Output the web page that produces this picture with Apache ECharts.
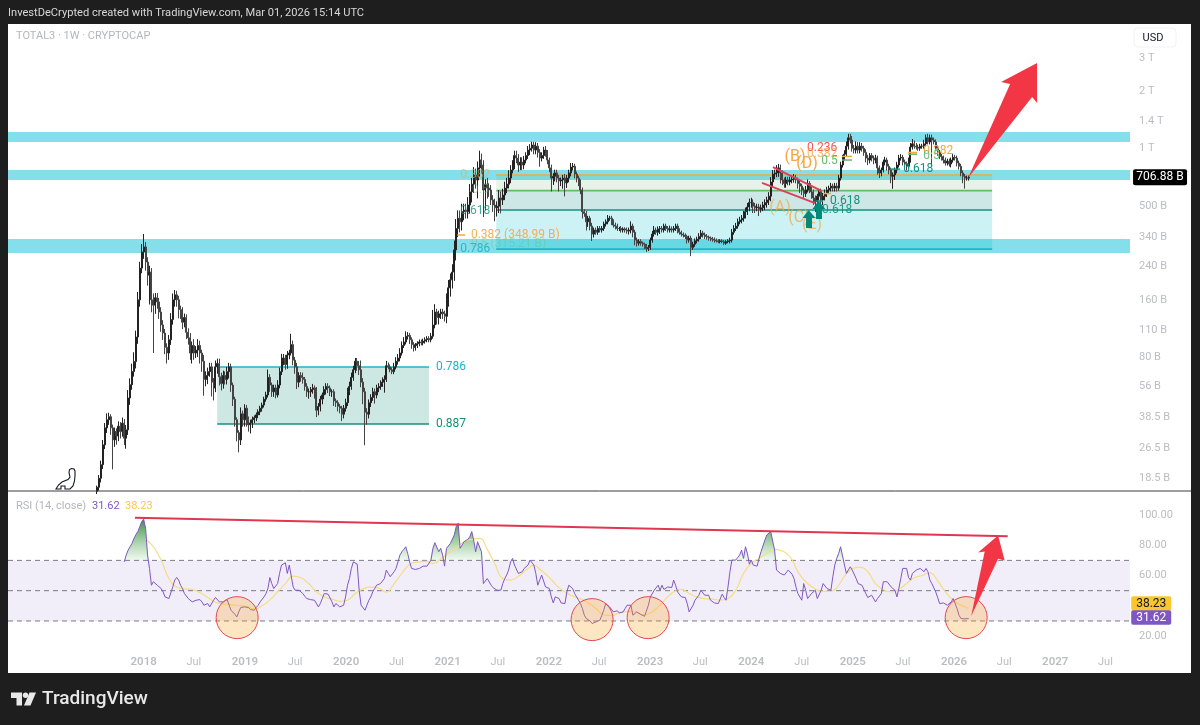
<!DOCTYPE html>
<html>
<head>
<meta charset="utf-8">
<title>TOTAL3</title>
<style>html,body{margin:0;padding:0;background:#1e1e1e;}#chart{width:1200px;height:725px;}</style>
<script src="https://cdn.jsdelivr.net/npm/echarts@6/dist/echarts.min.js"></script>
</head>
<body>
<div id="chart"></div>
<script>
// weekly closes of TOTAL3 in billions. last candle is the week of 2026-02-23
var closes = [
  16.5,18.4,21.7,27.6,33.9,37.4,38.8,33.9,29.3,32.4,30.7,34.6,32.4,35.9,29.9,33.1,48.7,57.2,67.1,75.7,
  102,160,235,286,304,253,216,224,160,150,164,156,138,118,107,90,84,98.6,126,160,
  170,160,142,138,122,129,108,101,84,92,84,87,92,84,76,61,64,67,71,59,
  55,71,74,63,58,64,61,67,71,57,48,37.4,32,29.3,40.2,37.4,43,37.4,35.2,36,
  37.4,38.3,39.7,41.2,43,44.7,48,50.5,62.5,57,52.5,55,50.5,57,67,77,79,73,82,84,
  93,77,71,59,64,62.5,61,56,52.5,52.5,54,55,52.5,42,44,48,50.5,54,56,55,
  52.5,52.5,47,46,44,43,40,43,46,52.5,56,62.5,68.5,76,72,68.5,59,52.5,41,40,
  46,49,52.5,50.5,55,56,58,59,61,72,71,68.5,67,71,76,79,84,92,96,103,
  104,98.6,93,90,92,94,96,95,97,98.6,100,98.6,103,118,138,129,135,138,135,131,
  160,185,204,224,293,380,430,412,466,475,466,505,592,650,727,684,792,871,820,606,
  650,620,606,537,505,488,498,550,537,570,620,650,700,772,820,920,892,820,850,820,
  871,920,983,1005,1045,983,1030,955,892,920,983,945,871,792,700,715,745,700,676,684,
  700,660,700,745,800,808,735,700,668,606,466,456,412,430,391,355,373,363,380,373,
  380,401,412,430,430,412,396,391,380,380,373,378,373,368,373,391,363,330,318,324,
  318,314,306,298,302,330,355,373,363,378,380,373,391,380,373,378,373,380,391,373,
  363,355,351,345,330,338,302,314,327,334,345,359,351,345,342,338,336,334,330,327,324,327,
  324,318,324,327,330,363,380,391,412,421,430,447,466,493,520,520,498,488,493,480,
  488,505,520,537,562,668,735,745,772,792,745,684,655,684,668,684,690,700,684,655,
  635,606,580,606,655,620,592,550,527,562,592,537,562,580,606,620,635,620,635,620,
  700,820,892,935,1030,1140,1110,1005,983,1030,983,1030,1005,955,892,871,920,892,871,892,
  792,745,772,850,871,808,772,715,727,772,820,892,900,850,830,808,871,1020,1060,1030,
  1020,1005,1030,1030,1060,1140,1085,1140,1110,1085,1005,955,910,892,871,840,860,830,871,900,892,840,808,745,715,700,700,706.88
];
// wick length past the candle body, in percent of price
var wickUp = [
  2,4,5,6,6,8,5,3,4,5,4,6,5,7,5,6,10,8,10,12,
  8,10,8,10,17,6,6,8,5,8,6,6,5,6,6,5,5,6,8,8,
  6,5,5,5,6,5,4,5,6,5,8,5,8,6,4,8,5,5,5,5,
  5,8,6,6,5,6,5,6,5,4,3,3,3,3,8,4,5,4,4,4,
  4,3,3,3,3,3,3,4,10,4,3,4,4,6,5,8,5,4,5,4,
  14,5,4,5,4,4,6,3,4,4,3,5,3,6,4,4,3,4,4,4,
  3,3,3,3,3,3,3,4,5,5,6,6,5,4,4,6,12,5,5,5,
  4,4,5,4,4,4,4,6,5,6,4,3,3,5,5,5,6,5,6,6,
  4,3,3,3,3,3,3,3,3,3,3,3,4,20,10,4,4,4,4,4,
  8,10,8,10,12,12,10,10,10,8,8,10,10,8,10,8,8,12,8,6,
  6,8,6,6,6,8,6,10,8,8,8,8,10,6,6,6,6,5,6,6,
  5,4,5,5,4,4,5,4,4,4,4,5,4,3,4,4,4,4,4,3,
  4,5,4,4,5,4,3,3,3,3,3,3,3,3,3,4,3,3,3,3,
  3,3,3,4,3,3,3,3,3,2,3,2,2,3,3,6,3,3,3,3,
  3,2,2,3,3,3,4,5,3,3,3,3,3,3,3,4,3,3,3,3,
  2,2,2,2,2,3,3,3,3,3,4,4,3,3,3,2,2,2,2,2,2,2,
  2,2,2,2,3,4,4,4,4,4,4,5,5,5,5,6,4,4,4,4,
  4,4,4,4,5,6,5,4,6,5,4,3,3,4,4,4,5,5,4,3,
  4,3,3,5,5,3,3,3,3,3,4,4,4,5,4,3,4,3,4,4,
  4,4,4,5,6,5,5,5,4,6,5,5,4,3,4,4,3,3,3,4,
  3,3,3,3,4,3,3,3,3,3,4,4,4,3,3,3,3,5,6,4,
  4,3,3,3,5,4,5,4,4,3,3,3,3,3,3,3,3,3,3,4,3,3,3,3,3,3,3,2
];
var wickDown = [
  3,4,5,5,5,6,6,8,30,8,10,6,8,6,8,12,6,8,6,6,
  8,8,8,6,8,10,12,30,14,44,10,8,8,8,8,8,12,8,6,6,
  8,8,10,8,8,6,8,8,8,12,8,6,8,12,12,18,8,10,6,16,
  14,5,8,10,8,6,6,6,8,8,8,8,10,14,6,8,8,8,8,10,
  6,4,4,4,4,4,3,3,3,8,6,6,4,3,4,4,6,6,5,5,
  3,6,8,8,6,5,5,5,6,8,6,5,8,8,6,6,6,5,6,6,
  5,6,6,5,6,6,8,5,4,4,4,4,4,4,6,6,6,14,33,12,
  5,5,4,10,4,5,4,4,12,3,3,3,3,3,3,4,4,3,3,3,
  4,5,5,5,4,3,3,3,3,3,3,3,3,3,4,8,8,6,6,6,
  8,8,10,10,10,12,10,12,10,10,8,8,10,12,10,10,20,10,10,28,
  22,12,8,6,8,15,10,8,15,6,6,6,5,6,4,5,6,8,6,6,
  5,4,4,6,4,5,5,6,10,4,4,4,5,5,15,8,6,5,12,6,
  10,15,6,5,4,4,5,5,5,5,8,4,10,6,5,8,4,3,3,3,
  3,3,3,3,3,4,3,4,3,3,3,3,3,3,4,4,6,6,4,3,
  3,3,3,4,3,3,3,3,3,4,6,3,3,3,3,3,3,3,3,4,
  3,3,3,3,4,3,10,3,3,3,3,3,3,3,3,3,3,3,3,2,2,2,
  2,2,2,2,3,3,3,3,3,3,4,4,4,4,5,6,8,6,4,8,
  4,4,6,6,6,6,6,6,5,8,12,6,5,5,4,4,4,4,4,6,
  8,6,5,4,3,6,8,8,12,6,5,8,6,5,4,4,4,4,4,4,
  3,3,3,3,3,4,4,4,4,4,4,4,4,4,5,6,4,4,5,4,
  8,6,4,3,4,5,5,8,14,6,4,3,3,4,4,5,3,3,3,3,
  3,3,3,3,3,3,3,3,28,3,3,4,3,3,4,3,3,3,4,3,3,4,4,4,8,12,3,3
];
// RSI(14), weekly, ends on the last candle
var rsi = [
  69,73.5,76.8,79,81.2,84.5,87,89,92.3,95.6,97.2,91.2,73.5,64.7,53.6,55.9,57,53.6,52.5,51.4,
  49.2,45.9,44.8,44.8,45.9,52.5,57,58.7,57,53.6,51.4,48.1,47,44.8,43.7,42.6,43.7,43.7,44.8,44.1,
  42.6,40.4,39.3,41.5,39.3,40.4,43.7,45.5,44.8,42.6,41.9,42.6,43.3,44.1,44.8,37.1,36,34.4,32.7,
  36,38.9,39.3,39.3,39.3,38.9,37.5,38.2,37.1,38.9,40.4,42.6,43.7,45.9,48.1,51.4,58.7,54.7,51.4,50.3,
  54.7,61.4,66.9,66.9,68.4,61.4,66.9,67.5,52.5,50.3,51.4,50.3,49.2,48.1,46.3,44.8,45.5,44.1,44.8,43.7,
  42.6,39.3,41.5,44.8,48.1,48.6,47.7,47,42.6,39.3,41.5,40.4,39.3,39.3,40.4,45.9,53.6,58,64.7,69,
  68.4,67.5,50.3,40.4,39.3,37.1,40.4,43.7,45.9,49.2,51.4,53.6,52.5,54.7,53.6,58,63.6,61.4,59.2,60.3,
  62.5,64.7,69,73.5,75.7,77.3,79,74.6,69,64.7,63.6,64,63.6,64.7,65.3,66.2,67.5,66.2,67.5,70.2,
  78,81.7,82.3,75.7,78,73.5,66.2,78,79,81.2,82.3,86.8,92.3,94.5,78,80.1,82.3,83.4,83.9,85.6,
  89,83.4,75.7,82.3,83.4,75.7,54.7,53.6,58,57,53.6,52,51.4,50.3,49.2,50.3,54.7,58,60.3,63.6,
  69,71.3,66.9,66.9,61.4,61.4,62.5,64.7,63.6,66.9,70.2,71.3,66.9,61.4,53.6,53.6,60.3,60.3,52.5,53.6,
  51.4,45.9,41.9,45.9,47,44.8,41.9,41.5,41.5,49.2,53.6,54.7,51.4,48.1,45.9,43.7,41.5,38.2,33.8,31.6,
  30.5,30,28.3,29.4,29.4,30,30.5,33.8,37.1,41.5,41.5,39.3,38.2,36,35.3,36.7,35.3,36,36,38.2,
  40.4,41.5,40.4,33.8,34.4,36,34.9,34.4,33.8,33.1,32.2,40.4,45.9,46.4,50.3,51.4,53.6,50.3,53.6,50.8,
  50.8,52.5,52,52,57,53.6,49.2,48.1,45.9,44.8,45.5,41.5,36,35.3,40.4,43.7,42.6,47,50.3,
  50.3,47,45.9,47,43.7,42.6,41.9,41.5,41.5,42.6,47.7,45.5,43.7,52.5,62.5,70.2,70.2,70.2,69.8,73.5,
  76.8,71.3,79,74.6,67.5,70.2,66.9,66.2,66.2,71.3,75.7,76.8,83.4,86.8,87.9,89,89,76.8,63.6,63.6,
  61.4,62.5,60.3,61.4,63.6,63.6,60.9,58,52.5,48.1,49.2,43.7,54.7,50.3,44.8,43.7,48.1,49.2,50.3,44.8,
  45.9,50.3,54.7,54.7,51.4,52.5,50.3,59.2,66.9,71.3,74.6,79,80.1,66.9,61.4,63.6,65.8,63.6,64,58,
  54.7,53.6,53.6,53.6,48.1,45.5,46.4,47,45.9,42.6,44.8,45.9,48.1,55.9,55.9,55.9,55.9,52.5,51.4,50.3,
  45.9,51.4,58,64.7,65.3,64.7,58.7,57,61.4,62.5,63.6,62.5,64.7,64.7,62.5,64.7,62.5,57,54.7,53.6,
  49.2,45.5,41.5,41,41.9,41,40.4,40.4,42.6,44.8,44.1,38.2,33.8,31.6,31.4,31.4,31.6,31.62
];
// RSI moving average, one reading every 4th week, ends on the last candle
var rsiMa = [
  84.1,79,70.2,58,52.5,51.2,50.8,48.6,45.5,42.4,41.3,40.8,40.2,39.5,38,40,43.9,49.2,54.7,59.6,
  58.5,54.7,49.2,45.9,44.4,43,43.7,48.1,51.2,52.3,51.7,49,54.7,61.4,67.3,68.9,69.3,68,70.9,75,
  78.4,82.3,83.9,84.5,77.3,67.5,58,57,59.6,63.6,66.7,63.1,58.7,53,49.2,46.4,44.6,41.9,38.2,34,
  33.6,35.3,36.2,36,34,35.3,39.3,44.8,49.2,50.8,48.1,45.9,44.8,44.4,43.7,44.8,50.3,61.4,68,71.3,
  74.6,77.3,76.2,72.4,62.5,55.9,51.9,49.7,49.5,52,59.6,64.5,65.6,62.5,54.7,50.8,49.2,50.8,54.7,58.5,
  60,61.8,56.5,49.2,43.7,40.4,38.23
];

var lastWeek = '2026-02-23';
var priceTicks = [3000, 2000, 1400, 1000, 500, 340, 240, 160, 110, 80, 56, 38.5, 26.5, 18.5];
var priceLabels = ['3 T', '2 T', '1.4 T', '1 T', '500 B', '340 B', '240 B', '160 B', '110 B', '80 B', '56 B', '38.5 B', '26.5 B', '18.5 B'];
var rsiTicks = [100, 80, 60, 20];
var timeTicks = ['2018-01-01', '2018-07-01', '2019-01-01', '2019-07-01', '2020-01-01', '2020-07-01', '2021-01-01', '2021-07-01', '2022-01-01', '2022-07-01', '2023-01-01', '2023-07-01', '2024-01-01', '2024-07-01', '2025-01-01', '2025-07-01', '2026-01-01', '2026-07-01', '2027-01-01', '2027-07-01'];
var timeLabels = ['2018', 'Jul', '2019', 'Jul', '2020', 'Jul', '2021', 'Jul', '2022', 'Jul', '2023', 'Jul', '2024', 'Jul', '2025', 'Jul', '2026', 'Jul', '2027', 'Jul'];

// drawing tools on the chart. x is a decimal year, y is the price or RSI value
var axisYears = [2016.662, 2027.738];
var zoneBands = [[1084, 1223], [684, 772], [282, 334]];
var fibYears = [2021.48, 2026.376];
var fibLevels = [727, 601, 475, 296];
var lowBoxYears = [2018.726, 2020.818];
var lowBoxLevels = [70.9, 35.5];
var channelLines = [[[2024.214, 800], [2024.698, 598]], [[2024.106, 660], [2024.629, 517]]];
var fibTicks = [
  ['orange', 2024.896, 2024.995, 910], ['green', 2024.896, 2024.995, 871],
  ['orange', 2024.708, 2024.787, 580], ['teal', 2024.639, 2024.708, 530],
  ['orange', 2025.546, 2025.635, 955], ['green', 2025.546, 2025.635, 935],
  ['teal', 2025.369, 2025.467, 780], ['orange', 2021.095, 2021.174, 351]
];
var fibTexts = [
  ['0.382', 2021.124, 727, 'orange', 0.65], ['0.5', 2021.24, 606, 'green', 0.45], ['0.618', 2021.124, 470, 'teal', 0.8], ['0.786', 2021.124, 296, 'cyan', 0.9],
  ['0.382 (348.99 B)', 2021.23, 351, 'orange', 0.9], ['0.5 (315.21 B)', 2021.23, 314, 'green', 0.35],
  ['0.236', 2024.55, 1005, 'red', 1], ['0.382', 2024.55, 940, 'orange', 0.8], ['0.5', 2024.69, 860, 'green', 1],
  ['0.618', 2024.777, 530, 'teal', 1], ['0.618', 2024.698, 475, 'teal', 0.9], ['0.618', 2025.497, 780, 'teal', 1],
  ['0.382', 2025.695, 970, 'orange', 1], ['0.5', 2025.695, 920, 'green', 0.9],
  ['0.786', 2020.887, 70.9, 'cyan', 1], ['0.887', 2020.887, 35.5, 'teal', 1]
];
var waveTexts = [['(A)', 2024.283, 488, 0.7], ['(B)', 2024.431, 900, 1], ['(C)', 2024.47, 430, 0.8], ['(E)', 2024.60, 396, 0.7], ['(D)', 2024.55, 830, 1]];
var bigArrow = [[2026.139, 700], [2026.554, 2189], [2026.465, 2243], [2026.82, 2824], [2026.82, 1739], [2026.771, 1870]];
var upArrows = [[2024.57, 426], [2024.668, 475]];
var rsiCircles = [[2018.923, 32.2], [2022.427, 30.9], [2022.98, 32.2], [2026.12, 32.2]];
var rsiTrend = [[2017.913, 98.2], [2026.53, 85.9]];
var rsiArrow = [[2026.169, 33.1], [2026.303, 75.9], [2026.238, 75.2], [2026.435, 86.4], [2026.5, 69.9], [2026.435, 71]];
var rsiLevels = [70, 50, 30];
var lastPrice = 706.88;
var lastRsi = 31.62;
var lastMa = 38.23;

var colors = {
  orange: '#f5a742', green: '#66bb6a', teal: '#14917f', cyan: '#1fb4c9', red: '#f0555f',
  band: '#84dfea', arrow: '#f23645', purple: '#7e57c2', yellow: '#f5dd82', axis: '#bcbdc3'
};
var fontFamily = 'Roboto, "Noto Sans", sans-serif';

function yr(y) {
  var whole = Math.floor(y);
  return Date.UTC(whole, 0, 1) + (y - whole) * 365.25 * 86400000;
}

function weekTime(i, count) {
  return new Date(lastWeek + 'T00:00:00Z').getTime() - (count - 1 - i) * 7 * 86400000;
}

function buildCandles() {
  var out = [];
  for (var i = 0; i < closes.length; i++) {
    var open = i ? closes[i - 1] : closes[i] * 0.95;
    var close = closes[i];
    var high = Math.max(open, close) * (1 + wickUp[i] / 100);
    var low = Math.min(open, close) * (1 - wickDown[i] / 100);
    out.push([weekTime(i, closes.length), open, close, low, high]);
  }
  return out;
}

function rsiSeriesData() {
  return rsi.map(function (v, i) {
    return [weekTime(closes.length - rsi.length + i, closes.length), v];
  });
}

function maSeriesData() {
  return rsiMa.map(function (v, i) {
    return [weekTime(closes.length - 1 - (rsiMa.length - 1 - i) * 4, closes.length), v];
  });
}

// only the part above 70 gets the green fill
function overboughtData() {
  return rsi.map(function (v, i) {
    var t = weekTime(closes.length - rsi.length + i, closes.length);
    if (v > 70) return [t, v];
    if (rsi[i - 1] > 70 || rsi[i + 1] > 70) return [t, 70];
    return [t, null];
  });
}

function drawShape(s, api) {
  function c(p) { return api.coord([yr(p[0]), p[1]]); }
  var a, b;
  if (s.kind === 'rect') {
    a = c(s.from); b = c(s.to);
    return {type: 'rect', shape: {x: a[0], y: Math.min(a[1], b[1]), width: b[0] - a[0], height: Math.abs(b[1] - a[1])}, style: {fill: s.fill}};
  }
  if (s.kind === 'line') {
    a = c(s.from); b = c(s.to);
    return {type: 'line', shape: {x1: a[0], y1: a[1], x2: b[0], y2: b[1]}, style: {stroke: s.stroke, lineWidth: s.width, lineDash: s.dash || null, fill: null}};
  }
  if (s.kind === 'polygon') {
    return {type: 'polygon', shape: {points: s.points.map(c)}, style: {fill: s.fill}};
  }
  if (s.kind === 'circle') {
    a = c(s.at);
    return {type: 'circle', shape: {cx: a[0], cy: a[1], r: s.r}, style: {fill: s.fill, stroke: s.stroke, lineWidth: 1}};
  }
  if (s.kind === 'text') {
    a = c(s.at);
    return {type: 'text', x: a[0], y: a[1], style: {text: s.text, fill: s.fill, opacity: s.opacity, font: s.font, align: s.align || 'left', verticalAlign: 'middle'}};
  }
  // price tag sitting on the axis
  a = c(s.at);
  return {type: 'group', x: a[0], y: a[1] + (s.dy || 0), children: [
    {type: 'rect', shape: {x: 0, y: -s.h / 2, width: s.w, height: s.h, r: 2}, style: {fill: s.fill}},
    {type: 'text', x: s.w / 2, y: 0, style: {text: s.text, fill: s.color, font: '12px ' + fontFamily, align: 'center', verticalAlign: 'middle'}}
  ]};
}

function shapeSeries(shapes, z, paneIndex) {
  return {
    type: 'custom',
    coordinateSystem: 'cartesian2d',
    xAxisIndex: paneIndex,
    yAxisIndex: paneIndex,
    z: z,
    silent: true,
    animation: false,
    encode: {x: 0, y: 1},
    data: shapes.map(function () { return [yr(2020), paneIndex ? 50 : 100]; }),
    renderItem: function (params, api) {
      return drawShape(shapes[params.dataIndex], api);
    }
  };
}

// main pane, below the candles
var underMain = [];
zoneBands.forEach(function (b) {
  underMain.push({kind: 'rect', from: [axisYears[0], b[1]], to: [axisYears[1], b[0]], fill: colors.band});
});
underMain.push({kind: 'rect', from: [fibYears[0], fibLevels[0]], to: [fibYears[1], fibLevels[1]], fill: 'rgba(102,187,106,0.17)'});
underMain.push({kind: 'rect', from: [fibYears[0], fibLevels[1]], to: [fibYears[1], fibLevels[2]], fill: 'rgba(0,137,123,0.2)'});
underMain.push({kind: 'rect', from: [fibYears[0], fibLevels[2]], to: [fibYears[1], fibLevels[3]], fill: 'rgba(0,188,212,0.2)'});
underMain.push({kind: 'rect', from: [lowBoxYears[0], lowBoxLevels[0]], to: [lowBoxYears[1], lowBoxLevels[1]], fill: '#cde8e3'});
[colors.orange, colors.green, colors.teal, colors.cyan].forEach(function (col, i) {
  underMain.push({kind: 'line', from: [fibYears[0], fibLevels[i]], to: [fibYears[1], fibLevels[i]], stroke: col, width: 1.6});
});
underMain.push({kind: 'line', from: [lowBoxYears[0], lowBoxLevels[0]], to: [lowBoxYears[1], lowBoxLevels[0]], stroke: colors.cyan, width: 1.5});
underMain.push({kind: 'line', from: [lowBoxYears[0], lowBoxLevels[1]], to: [lowBoxYears[1], lowBoxLevels[1]], stroke: colors.teal, width: 1.5});

// main pane, above the candles
var overMain = [];
fibTicks.forEach(function (t) {
  overMain.push({kind: 'line', from: [t[1], t[3]], to: [t[2], t[3]], stroke: colors[t[0]], width: 1.5});
});
channelLines.forEach(function (l) {
  overMain.push({kind: 'line', from: l[0], to: l[1], stroke: '#d9435f', width: 2});
});
fibTexts.forEach(function (t) {
  overMain.push({kind: 'text', at: [t[1], t[2]], text: t[0], fill: colors[t[3]], opacity: t[4], font: '12px ' + fontFamily});
});
waveTexts.forEach(function (t) {
  overMain.push({kind: 'text', at: [t[1], t[2]], text: t[0], fill: colors.orange, opacity: t[3], font: '16px ' + fontFamily, align: 'center'});
});
overMain.push({kind: 'polygon', points: bigArrow, fill: colors.arrow});
overMain.push({kind: 'tag', at: [2027.768, lastPrice], text: '706.88 B', fill: '#000', color: '#fff', w: 54, h: 16});

// RSI pane
var underRsi = [{kind: 'rect', from: [axisYears[0], 70], to: [axisYears[1], 30], fill: 'rgba(126,87,194,0.1)'}];
rsiLevels.forEach(function (v) {
  underRsi.push({kind: 'line', from: [axisYears[0], v], to: [axisYears[1], v], stroke: '#787b86', width: 1, dash: [5, 4]});
});
var overRsi = [];
rsiCircles.forEach(function (p) {
  overRsi.push({kind: 'circle', at: p, r: 21, fill: 'rgba(255,167,38,0.28)', stroke: '#e5484d'});
});
overRsi.push({kind: 'line', from: rsiTrend[0], to: rsiTrend[1], stroke: '#e0364f', width: 2});
overRsi.push({kind: 'polygon', points: rsiArrow, fill: colors.arrow});
overRsi.push({kind: 'tag', at: [2027.75, lastMa], dy: -5, text: String(lastMa), fill: '#f9c72c', color: '#131722', w: 40, h: 14.5});
overRsi.push({kind: 'tag', at: [2027.75, lastRsi], dy: -1, text: String(lastRsi), fill: colors.purple, color: '#fff', w: 40, h: 14.5});

var timeValues = timeTicks.map(function (d) { return new Date(d + 'T00:00:00Z').getTime(); });

function pageText(text, x, y, fill, font, z) {
  return {type: 'text', z: z || 10, x: x, y: y, style: {text: text, fill: fill, font: font, verticalAlign: 'middle'}};
}

var option = {
  backgroundColor: '#1e1e1e',
  animation: false,
  textStyle: {fontFamily: fontFamily},
  graphic: [
    {type: 'rect', z: -10, shape: {x: 8, y: 24, width: 1183, height: 649}, style: {fill: '#fff'}},
    pageText('InvestDeCrypted created with TradingView.com, Mar 01, 2026 15:14 UTC', 8, 13, '#d8d8d8', '11.1px ' + fontFamily),
    pageText('TOTAL3 \u00b7 1W \u00b7 CRYPTOCAP', 16, 36, '#b4b6bd', '11px ' + fontFamily),
    pageText('RSI (14, close)', 16, 506, '#b4b6bd', '11px ' + fontFamily),
    pageText('31.62', 92, 506, colors.purple, '11px ' + fontFamily),
    pageText('38.23', 125, 506, '#f7c948', '11px ' + fontFamily),
    {type: 'rect', z: 20, shape: {x: 1134, y: 28, width: 42, height: 19, r: 4}, style: {fill: '#fff', stroke: '#f2f2f2'}},
    {type: 'text', z: 21, x: 1153, y: 38, style: {text: 'USD', fill: '#131722', font: '11px ' + fontFamily, align: 'center', verticalAlign: 'middle'}},
    {type: 'line', z: 10, shape: {x1: 8, y1: 491, x2: 1191, y2: 491}, style: {stroke: '#3a3a3a', lineWidth: 1}},
    // dinosaur sticker and the logo
    {type: 'polygon', z: 10, x: 55, y: 468, shape: {points: [[1, 21], [6, 21], [6, 18], [10, 18], [10, 21], [15, 21], [18, 18], [19.5, 13], [20, 8], [20, 3], [19, 1], [16.5, 0.5], [14.5, 1.5], [14, 4.5], [15, 9], [13, 11.5], [7, 14], [3.5, 17]]}, style: {fill: '#fff', stroke: '#131722', lineWidth: 1.1}},
    {type: 'polygon', z: 10, x: 11, y: 692.5, shape: {points: [[0, 0], [11, 0], [11, 13], [5.5, 13], [5.5, 5.5], [0, 5.5]]}, style: {fill: '#e8e8e8'}},
    {type: 'circle', z: 10, x: 11, y: 692.5, shape: {cx: 14.5, cy: 2.7, r: 2.7}, style: {fill: '#e8e8e8'}},
    {type: 'polygon', z: 10, x: 11, y: 692.5, shape: {points: [[13, 13], [18.5, 0], [25, 0], [19.5, 13]]}, style: {fill: '#e8e8e8'}},
    pageText('TradingView', 42, 699, '#e8e8e8', '500 19px ' + fontFamily)
  ],
  grid: [
    {left: 8, width: 1122, top: 24, height: 467},
    {left: 8, width: 1122, top: 491, height: 181}
  ],
  xAxis: [
    {type: 'value', gridIndex: 0, min: yr(axisYears[0]), max: yr(axisYears[1]), show: false, splitLine: {show: false}},
    {
      type: 'value', gridIndex: 1, min: yr(axisYears[0]), max: yr(axisYears[1]),
      axisLine: {show: false},
      axisTick: {show: false},
      splitLine: {show: false},
      axisLabel: {
        inside: true,
        margin: 4,
        hideOverlap: false,
        customValues: timeValues,
        formatter: function (value) {
          var label = timeLabels[timeValues.indexOf(value)];
          return label === 'Jul' ? '{m|Jul}' : '{y|' + label + '}';
        },
        rich: {
          y: {fontSize: 11.5, fontWeight: 600, color: colors.axis, fontFamily: fontFamily},
          m: {fontSize: 11, color: colors.axis, fontFamily: fontFamily}
        }
      }
    }
  ],
  yAxis: [
    {
      type: 'log', gridIndex: 0, position: 'right', min: 15.77, max: 4530,
      axisLine: {show: false},
      axisTick: {show: false},
      splitLine: {show: false},
      axisLabel: {
        margin: 9, align: 'left', color: colors.axis, fontSize: 11, showMinLabel: true, showMaxLabel: true,
        customValues: priceTicks,
        formatter: function (value) {
          return priceLabels[priceTicks.indexOf(value)];
        }
      }
    },
    {
      type: 'value', gridIndex: 1, position: 'right', min: -3.68, max: 115.8,
      axisLine: {show: false},
      axisTick: {show: false},
      splitLine: {show: false},
      axisLabel: {
        margin: 9, align: 'left', color: colors.axis, fontSize: 11,
        customValues: rsiTicks,
        formatter: function (value) { return value.toFixed(2); }
      }
    }
  ],
  series: [
    shapeSeries(underMain, 1, 0),
    {
      name: 'TOTAL3',
      type: 'candlestick',
      xAxisIndex: 0,
      yAxisIndex: 0,
      z: 2,
      barWidth: 1.5,
      data: buildCandles(),
      itemStyle: {color: '#000', color0: '#2a2a2a', borderColor: '#222', borderColor0: '#444', borderWidth: 1}
    },
    shapeSeries(overMain, 3, 0),
    {
      type: 'scatter',
      xAxisIndex: 0,
      yAxisIndex: 0,
      z: 4,
      silent: true,
      symbol: 'path://M6 0L13 8H9.5V18H3.5V8H0Z',
      symbolSize: [13, 18],
      itemStyle: {color: '#00897b', opacity: 1},
      data: upArrows.map(function (p) { return [yr(p[0]), p[1]]; })
    },
    shapeSeries(underRsi, 1, 1),
    {
      name: 'overbought',
      type: 'line',
      xAxisIndex: 1,
      yAxisIndex: 1,
      z: 2,
      silent: true,
      showSymbol: false,
      lineStyle: {width: 0},
      areaStyle: {
        origin: 70,
        opacity: 1,
        color: new echarts.graphic.LinearGradient(0, 0, 0, 1, [
          {offset: 0, color: 'rgba(46,125,50,0.9)'},
          {offset: 1, color: 'rgba(76,175,80,0.08)'}
        ])
      },
      data: overboughtData()
    },
    {
      name: 'RSI MA',
      type: 'line',
      xAxisIndex: 1,
      yAxisIndex: 1,
      z: 3,
      smooth: true,
      showSymbol: false,
      lineStyle: {color: colors.yellow, width: 1.2},
      data: maSeriesData()
    },
    {
      name: 'RSI',
      type: 'line',
      xAxisIndex: 1,
      yAxisIndex: 1,
      z: 4,
      showSymbol: false,
      lineStyle: {color: colors.purple, width: 1},
      data: rsiSeriesData()
    },
    shapeSeries(overRsi, 5, 1)
  ]
};

var myChart = echarts.init(document.getElementById('chart'));
myChart.setOption(option);
</script>
</body>
</html>
